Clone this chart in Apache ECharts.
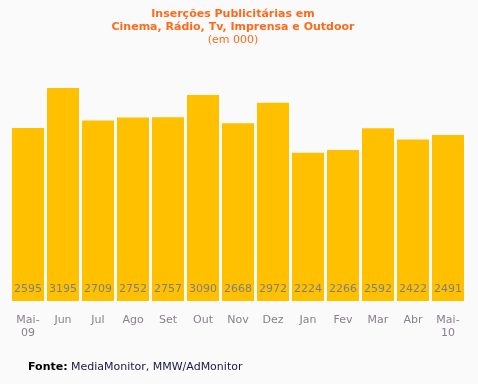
<!DOCTYPE html>
<html><head><meta charset="utf-8">
<script src="https://cdn.jsdelivr.net/npm/echarts@6/dist/echarts.min.js"></script>
<style>html,body{margin:0;padding:0;background:#fafafa;}#c{width:478px;height:384px;}</style>
</head><body><div id="c"></div>
<script>
const categories = ['Mai-\n09','Jun','Jul','Ago','Set','Out','Nov','Dez','Jan','Fev','Mar','Abr','Mai-\n10'];
const values = [2595,3195,2709,2752,2757,3090,2668,2972,2224,2266,2592,2422,2491];
const titleLines = ['Inserções Publicitárias em','Cinema, Rádio, Tv, Imprensa e Outdoor'];
const subtitle = '(em 000)';
const source = 'MediaMonitor, MMW/AdMonitor';

const chart = echarts.init(document.getElementById('c'), null, {renderer:'canvas'});
const font = 'Verdana, "DejaVu Sans", sans-serif';
const titleColor = '#ff6a1a';
chart.setOption({
  backgroundColor:'#fafafa',
  animation:false,
  graphic:[
    {type:'text', x:233, y:14, style:{text:titleLines[0], fill:titleColor, font:'bold 11px '+font, textAlign:'center', textVerticalAlign:'middle'}},
    {type:'text', x:233, y:27, style:{text:titleLines[1], fill:titleColor, font:'bold 11px '+font, textAlign:'center', textVerticalAlign:'middle'}},
    {type:'text', x:233, y:40, style:{text:subtitle, fill:titleColor, font:'11px '+font, textAlign:'center', textVerticalAlign:'middle'}},
    {type:'text', left:28, top:361,
    style:{rich:{b:{fontWeight:'bold',fontSize:11,fontFamily:font,fill:'#000'},n:{fontSize:11,fontFamily:font,fill:'#1a1a3a'}},
      text:'{b|Fonte:} {n|'+source+'}'}
  }],
  grid:{left:10.5, width:455, top:34.33, height:266.67},
  xAxis:{type:'category', data:categories,
    axisLine:{show:false}, axisTick:{show:false},
    axisLabel:{color:'#8a7f8c', fontSize:11, fontFamily:font, margin:13, lineHeight:13, interval:0}},
  yAxis:{type:'value', min:0, max:4000, show:false, splitLine:{show:false}},
  series:[{type:'bar', data:values, barCategoryGap:3, barWidth:32,
    itemStyle:{color:'#ffc000'},
    label:{show:true, position:'insideBottom', distance:6, color:'#7f7f7f', fontSize:11, fontFamily:font}
  }]
});
</script></body></html>
